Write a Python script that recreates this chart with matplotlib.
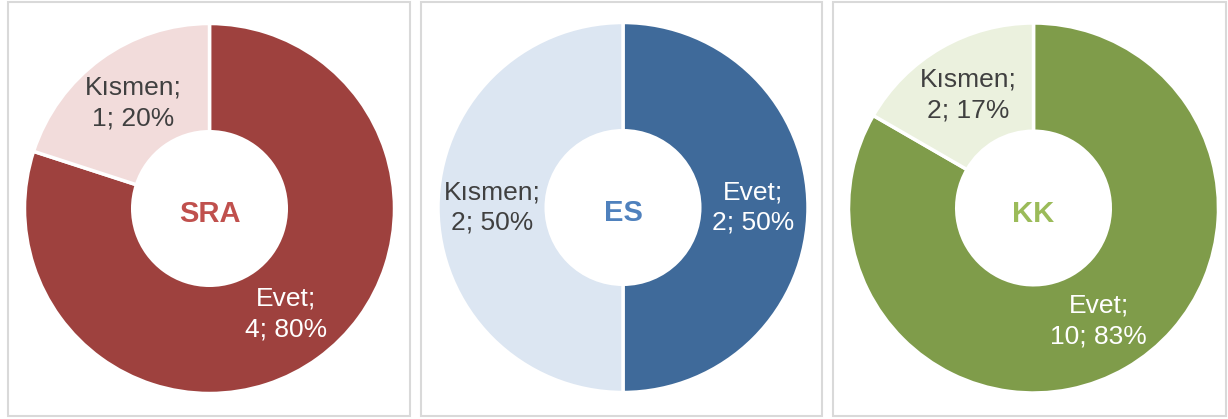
import matplotlib.pyplot as plt
from matplotlib.patches import Rectangle

plt.rcParams["font.family"] = ["Liberation Sans", "DejaVu Sans"]

# data
groups = ["SRA", "ES", "KK"]
categories = ["Evet", "Kısmen"]
evet = [4, 2, 10]
kismen = [1, 2, 2]

dark_colors = ["#9E413E", "#3F6A9A", "#7F9C4A"]
light_colors = ["#F2DCDB", "#DCE6F2", "#EBF1DE"]
title_colors = ["#C0504D", "#4F81BD", "#9BBB59"]

W, H = 1228, 419
fig = plt.figure(figsize=(W / 100, H / 100), dpi=100)

# panel frames (pixel coords, y from top) and donut centres
frames = [(8, 2, 410, 416), (421, 2, 822, 416), (833, 2, 1226, 416)]
centers = [(209.5, 208.5), (623, 207.5), (1033.5, 208)]
R = 185

for (x0, y0, x1, y1) in frames:
    fig.patches.append(Rectangle((x0 / W, 1 - y1 / H), (x1 - x0) / W, (y1 - y0) / H,
                                 transform=fig.transFigure, fill=False,
                                 edgecolor="#D9D9D9", lw=1.5))

for i, g in enumerate(groups):
    cx, cy = centers[i]
    ax = fig.add_axes([(cx - R) / W, 1 - (cy + R) / H, 2 * R / W, 2 * R / H])
    vals = [evet[i], kismen[i]]
    total = sum(vals)
    labels = [f"{c};\n{v}; {100 * v / total:.0f}%" for c, v in zip(categories, vals)]
    wedges, texts = ax.pie(vals, labels=labels, colors=[dark_colors[i], light_colors[i]],
                           startangle=90, counterclock=False, radius=1,
                           labeldistance=0.705,
                           wedgeprops=dict(width=0.585, edgecolor="white", linewidth=2.5),
                           textprops=dict(fontsize=19))
    for t, col in zip(texts, ["white", "#404040"]):
        t.set_ha("center")
        t.set_va("center")
        t.set_color(col)
        t.set_linespacing(1.35)
    ax.text(0, -0.03, g, ha="center", va="center", fontsize=21, fontweight="bold",
            color=title_colors[i])
    ax.set_xlim(-1, 1)
    ax.set_ylim(-1, 1)
    ax.set_axis_off()

fig.savefig("out.png", dpi=100)
